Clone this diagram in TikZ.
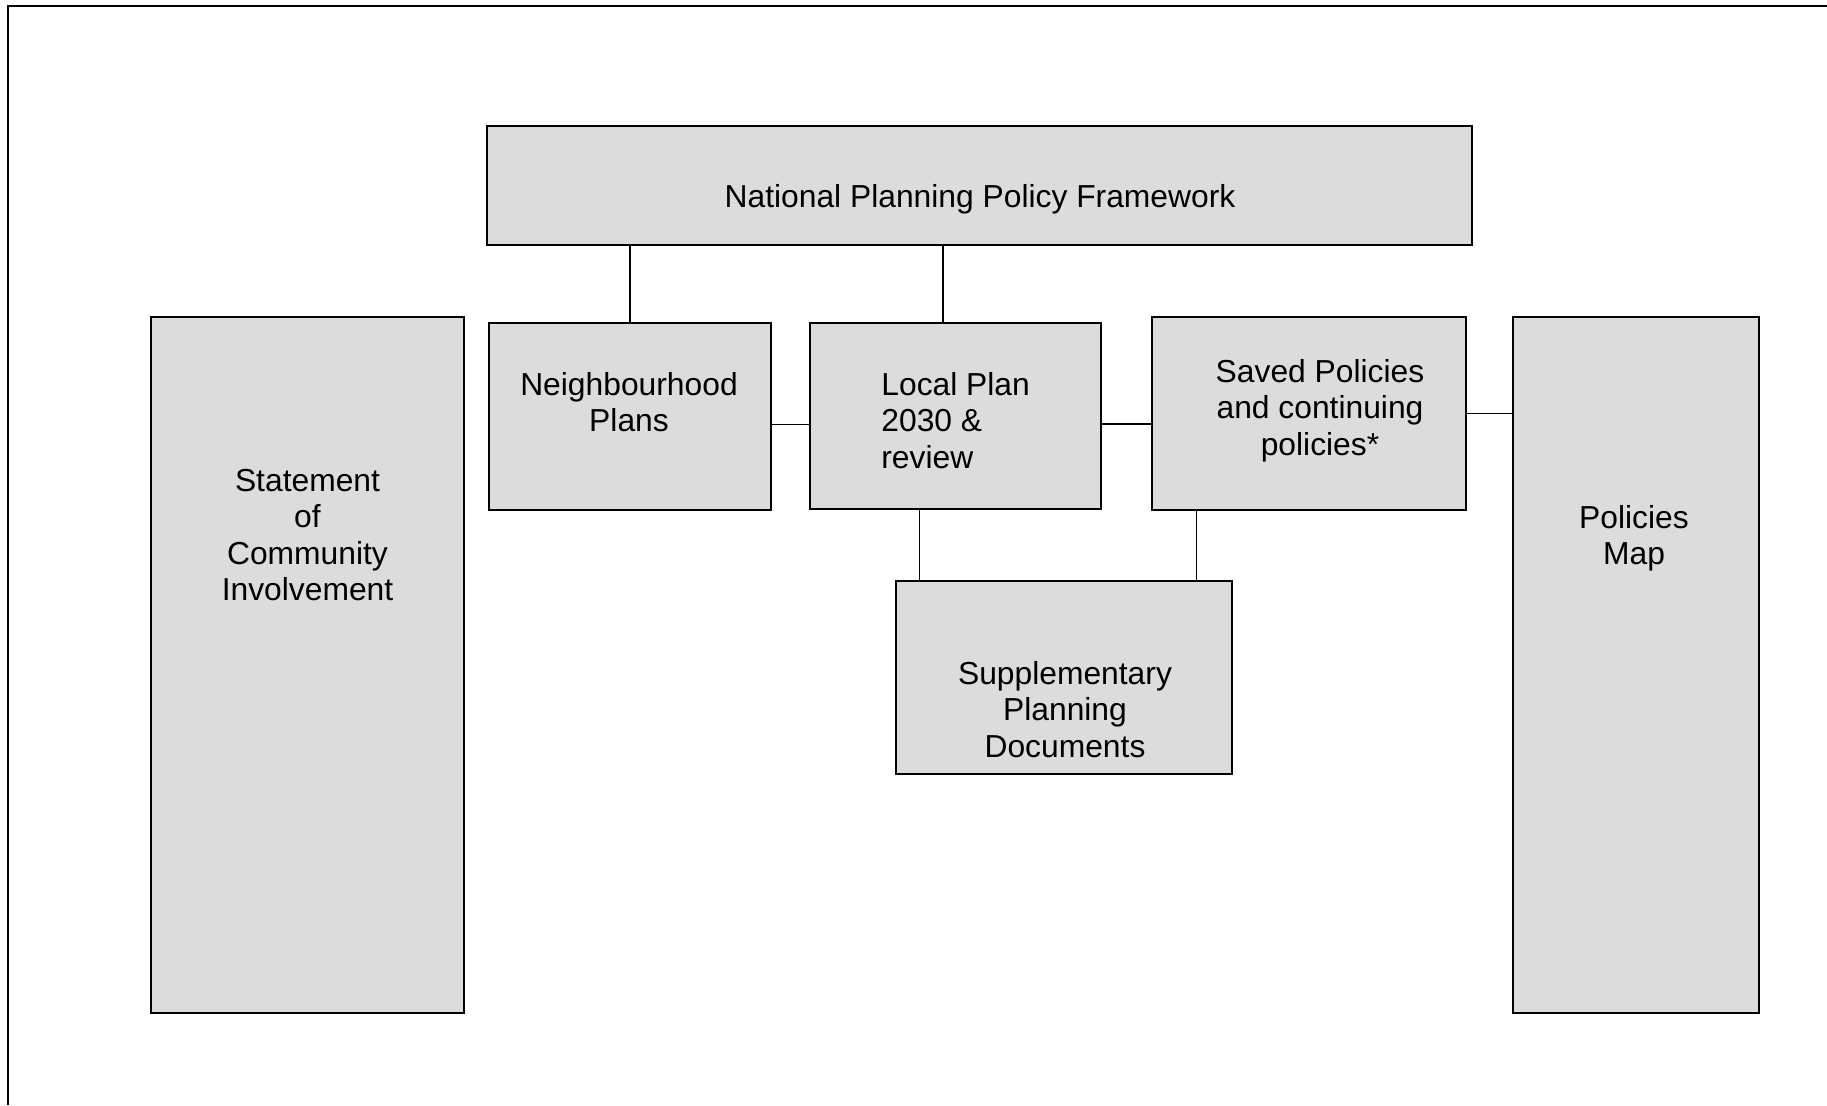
\documentclass[tikz,border=0pt]{standalone}
\usepackage{fontspec}
\setmainfont{Liberation Sans}
\usetikzlibrary{calc}
\definecolor{boxgray}{RGB}{220,220,220}
\newcommand{\boxfont}{\fontsize{15.9}{18.25}\selectfont}
\begin{document}
\begin{tikzpicture}[
            x=0.5pt, y=-0.5pt,
            box/.style={draw, fill=boxgray, line width=0.65pt, inner sep=0pt},
            tallbox/.style={box, line width=0.9pt},
            txt/.style={align=center, anchor=base, inner sep=0pt, font=\boxfont},
            link/.style={line width=0.6pt}
        ]
        \useasboundingbox (0,0) rectangle (1827,1105);
        \draw[line width=1pt] (8,1105) |- (1827,6);

        \node[box, minimum width=492.5pt, minimum height=59.5pt] (nppf) at (979.5,185.5) {};
        \node[box, minimum width=141pt, minimum height=93.5pt] (np) at (630,416.5) {};
        \node[box, minimum width=145.5pt, minimum height=93pt] (lp) at (955.5,416) {};
        \node[box, minimum width=157pt, minimum height=96.5pt] (sp) at (1309,413.5) {};
        \node[box, minimum width=168pt, minimum height=96.5pt] (spd) at (1064,677.5) {};
        \node[tallbox, minimum width=156.5pt, minimum height=348pt] (sci) at (307.5,665) {};
        \node[tallbox, minimum width=123pt, minimum height=348pt] (pm) at (1636,665) {};

        \node[txt] (nppf-t) at (980,207) {National Planning Policy Framework};
        \node[txt] (np-t) at (629,431.5) {Neighbourhood\\Plans};
        \node[txt, align=left, anchor=base west] (lp-t) at (881,468) {Local Plan\\2030 \&\\review};
        \node[txt] (sp-t) at (1320,455) {Saved Policies\\and continuing\\policies*};
        \node[txt] (spd-t) at (1065,757) {Supplementary\\Planning\\Documents};
        \node[txt] (sci-t) at (307.5,600.5) {Statement\\of\\Community\\Involvement};
        \node[txt] (pm-t) at (1634,564.5) {Policies\\Map};

        \draw[link] (np.north) -- (np.north |- nppf.south);
        \draw[link] ([xshift=-6.25pt]lp.north) -- ([xshift=-6.25pt]lp.north |- nppf.south);
        \draw[link] ([yshift=-4pt]np.east) -- ([yshift=-4pt]np.east -| lp.west);
        \draw[link] ([yshift=-4pt]lp.east) -- ([yshift=-4pt]lp.east -| sp.west);
        \draw[link] (sp.east) -- (sp.east -| pm.west);
        \draw[link] ([xshift=12pt]spd.north west) -- ([xshift=12pt]spd.north west |- lp.south);
        \draw[link] ([xshift=22.5pt]sp.south west) -- ([xshift=22.5pt]sp.south west |- spd.north);
    \end{tikzpicture}
\end{document}
